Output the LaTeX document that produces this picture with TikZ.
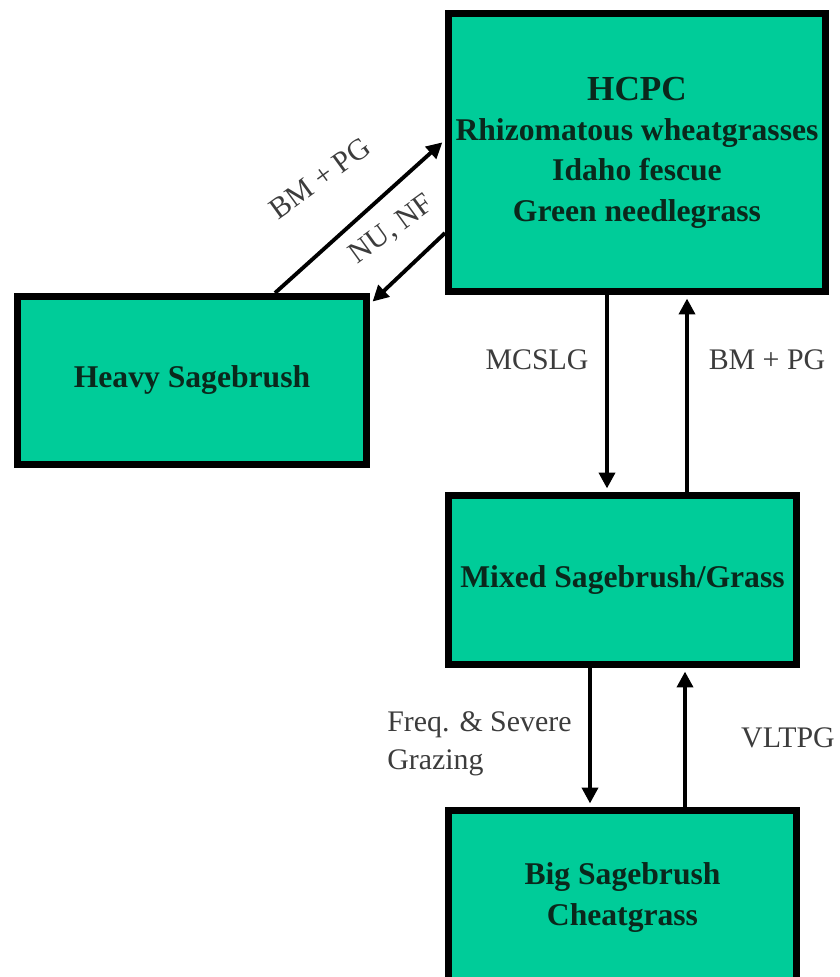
\documentclass[tikz,border=0pt]{standalone}
\usepackage{fontspec}
\setmainfont{Liberation Serif}
\usetikzlibrary{arrows.meta}
\definecolor{sage}{RGB}{0,204,153}
\definecolor{boxtext}{RGB}{10,40,28}
\definecolor{labeltext}{RGB}{60,60,60}

\begin{document}
\begin{tikzpicture}[
  state/.style={draw=black, line width=4pt, fill=sage, text=boxtext, align=center,
    inner sep=0pt, font=\fontsize{18}{23}\selectfont\bfseries},
  trans/.style={line width=2.2pt, shorten >=2pt, -{Triangle[length=9pt,width=9pt]}},
  lbl/.style={text=labeltext, inner sep=0pt, font=\fontsize{17}{21.5}\selectfont}]
\useasboundingbox (0,-19.54) rectangle (16.8,0);

\node[state, minimum width=7.54cm, minimum height=5.56cm] (hcpc) at (12.74,-3.05)
  {{\fontsize{20}{23}\selectfont HCPC}\\Rhizomatous wheatgrasses\\Idaho fescue\\Green needlegrass};
\node[state, minimum width=6.98cm, minimum height=3.36cm] (heavy) at (3.84,-7.61) {Heavy Sagebrush};
\node[state, minimum width=6.96cm, minimum height=3.38cm] (mixed) at (12.45,-11.6) {Mixed Sagebrush/Grass};
\node[state, minimum width=6.96cm, minimum height=3.48cm] (big) at (12.45,-17.95) {Big Sagebrush\\Cheatgrass};

\draw[trans] ([xshift=1.66cm]heavy.north) -- ([yshift=0.25cm]hcpc.west);
\draw[trans] ([yshift=-1.61cm]hcpc.west) -- ([yshift=-0.22cm]heavy.north east);
\node[lbl, rotate=36] (bmpgdiag) at (6.40,-3.56) {BM + PG};
\node[lbl, rotate=36] (nunf) at (7.84,-4.6) {NU, NF};

\draw[trans] ([xshift=-0.6cm]hcpc.south) -- ([xshift=-0.6cm]hcpc.south |- mixed.north);
\draw[trans] ([xshift=1cm]hcpc.south |- mixed.north) -- ([xshift=1cm]hcpc.south);
\node[lbl] (mcslg) at (10.74,-7.2) {MCSLG};
\node[lbl] (bmpg) at (15.34,-7.2) {BM + PG};

\draw[trans] ([xshift=-0.65cm]mixed.south) -- ([xshift=-0.65cm]mixed.south |- big.north);
\draw[trans] ([xshift=1.25cm]mixed.south |- big.north) -- ([xshift=1.25cm]mixed.south);
\node[lbl, align=left, anchor=west] (freq) at (7.74,-14.88) {Freq. \& Severe\\Grazing};
\node[lbl] (vltpg) at (15.76,-14.76) {VLTPG};
\end{tikzpicture}
\end{document}
